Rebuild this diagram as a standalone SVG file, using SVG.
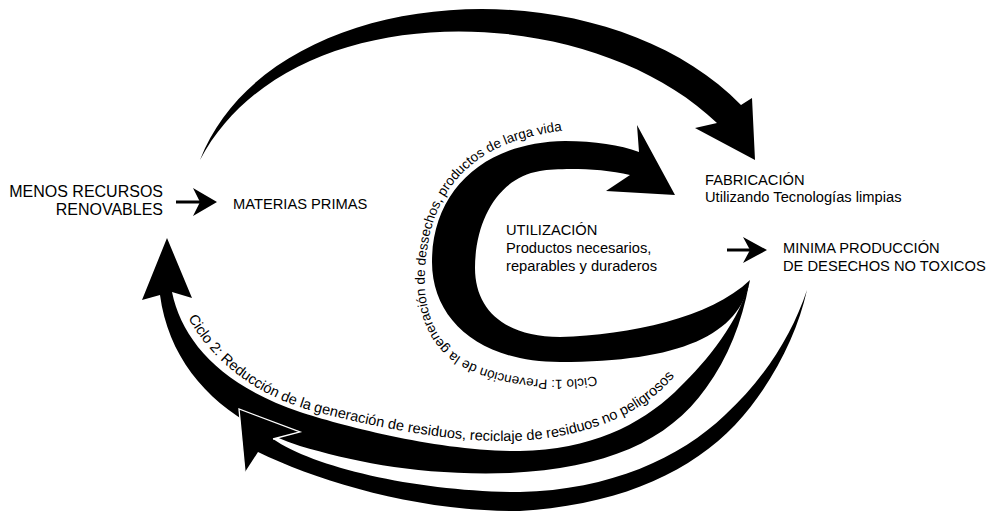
<svg xmlns="http://www.w3.org/2000/svg" xmlns:xlink="http://www.w3.org/1999/xlink" width="989" height="513" viewBox="0 0 989 513">
<style>
.t{font-family:"Liberation Sans",Arial,sans-serif;fill:#000;font-size:14.7px}
.big{font-size:16px}
.c1{font-family:"Liberation Sans",Arial,sans-serif;fill:#000;font-size:13.5px;font-kerning:none}
.c2{font-family:"Liberation Sans",Arial,sans-serif;fill:#000;font-size:14.5px;font-kerning:none}
.band{fill:#000;stroke:none}
.ln{stroke:#000;stroke-width:3;fill:none}
</style>
<defs>
<path id="p1" d="M596,376 C555,385 495,378 462,358 C428,337 420,295 427,250 C433,205 455,172 490,152 C515,139 535,134 575,129"/>
<path id="p2" d="M188,318 C215,365 260,398 320,413 C380,428 450,442 510,441 C560,440 600,428 630,412 C650,401 665,388 678,372"/>
</defs>
<rect width="989" height="513" fill="#fff"/>
<g id="connectors">
<path id="top-arrow" class="band" d="M200,160 C270,-20 600,-40 741,105 L752,98 L755,160 L695,128 L717,123 C590,0 290,-10 200,160 Z"/>
<path id="cycle1-arrow" class="band" d="M750,280 C740,335 680,362 560,362 C480,362 432,320 432,262 C432,190 485,142 565,141 C595,141 620,145 639,152 L637,125 L675,195 L606,191 L630,175 C600,168 560,168 540,171 C497,178 475,222 475,268 C475,310 505,337 560,337 C630,335 710,318 750,280 Z"/>
<path id="cycle2-left-arrow" class="band" d="M172,292 C182,340 220,385 300,412 C340,425 440,452 520,451 C590,450 640,425 675,392 C700,368 735,330 749,284 C742,322 728,358 706,388 C668,442 605,468 510,473 C420,476 355,462 300,446 C225,422 170,370 160,295 L142,300 L167,238 L192,298 Z"/>
<path id="cycle2-bottom-arrow" class="band" d="M239,409 L300,432 L273,439 C315,468 420,492 520,492 C610,490 680,458 725,415 C765,378 792,335 807,290 C797,335 772,385 735,425 C690,472 620,505 520,511 C420,512 320,482 258,452 L245,472 Z"/>
<polyline points="273,439 300,432 239,409 245,472" fill="none" stroke="#fff" stroke-width="1.3" stroke-linejoin="miter"/>
<g id="small-arrow-1">
<line class="ln" x1="176" y1="202" x2="201" y2="202"/>
<polygon points="193,188 217,202 193,216 200,202" fill="#000"/>
</g>
<g id="small-arrow-2">
<line class="ln" x1="727" y1="250" x2="751" y2="250"/>
<polygon points="743,237 767,250 743,263 750,250" fill="#000"/>
</g>
</g>
<g id="node-menos">
<text class="t big" x="163" y="197" text-anchor="end">MENOS RECURSOS</text>
<text class="t big" x="163" y="215" text-anchor="end">RENOVABLES</text>
</g>
<g id="node-materias">
<text class="t" x="233" y="209">MATERIAS PRIMAS</text>
</g>
<g id="node-fabricacion">
<text class="t" x="705" y="185">FABRICACIÓN</text>
<text class="t" x="705" y="202">Utilizando Tecnologías limpias</text>
</g>
<g id="node-utilizacion">
<text class="t" x="506" y="235">UTILIZACIÓN</text>
<text class="t" x="506" y="253">Productos necesarios,</text>
<text class="t" x="506" y="271">reparables y duraderos</text>
</g>
<g id="node-minima">
<text class="t" x="783" y="253">MINIMA PRODUCCIÓN</text>
<text class="t" x="783" y="271">DE DESECHOS NO TOXICOS</text>
</g>
<g id="label-ciclo1">
<text class="c1"><textPath xlink:href="#p1" href="#p1" startOffset="0">Ciclo 1: Prevención de la</textPath></text>
<text class="c1"><textPath xlink:href="#p1" href="#p1" startOffset="153.1">generación de dessechos,</textPath></text>
<text class="c1"><textPath xlink:href="#p1" href="#p1" startOffset="314.4">productos de larga vida</textPath></text>
</g>
<g id="label-ciclo2">
<text class="c2"><textPath xlink:href="#p2" href="#p2" startOffset="0">Ciclo 2: Reducción de la</textPath></text>
<text class="c2"><textPath xlink:href="#p2" href="#p2" startOffset="160.4">generación de residuos,</textPath></text>
<text class="c2"><textPath xlink:href="#p2" href="#p2" startOffset="319.2">reciclaje de residuos</textPath></text>
<text class="c2"><textPath xlink:href="#p2" href="#p2" startOffset="455.4">no peligrosos</textPath></text>
</g>
</svg>
